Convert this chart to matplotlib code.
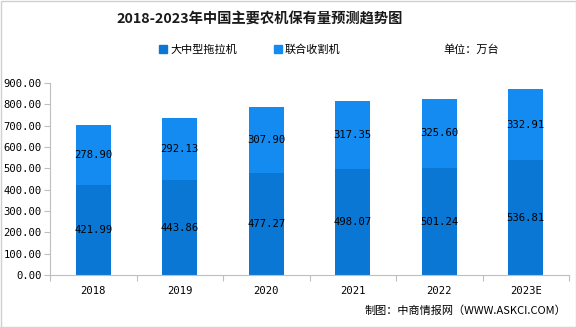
import matplotlib
matplotlib.use("Agg")
import matplotlib.pyplot as plt
from matplotlib.patches import Rectangle, Patch

plt.rcParams['font.family'] = ['Noto Sans CJK SC', 'DejaVu Sans']

categories = ["2018", "2019", "2020", "2021", "2022", "2023E"]
tractors = [421.99, 443.86, 477.27, 498.07, 501.24, 536.81]
harvesters = [278.90, 292.13, 307.90, 317.35, 325.60, 332.91]
series_names = ["大中型拖拉机", "联合收割机"]
title = "2018-2023年中国主要农机保有量预测趋势图"
unit = "单位：万台"
source = "制图：中商情报网（WWW.ASKCI.COM）"

c_dark = "#0B77D4"
c_light = "#148BF0"

fig = plt.figure(figsize=(5.76, 3.27), dpi=100)
ax = fig.add_axes([50/576, 1-275/327, 519/576, 192/327])

x = list(range(len(categories)))
w = 0.405
ax.bar(x, tractors, width=w, color=c_dark, zorder=2)
ax.bar(x, harvesters, width=w, bottom=tractors, color=c_light, zorder=2)

mono = ['DejaVu Sans Mono']
for xi, a, b in zip(x, tractors, harvesters):
    ax.text(xi, a/2, f"{a:.2f}", ha='center', va='center', fontsize=7.6, family=mono, color='black', zorder=3)
    ax.text(xi, a + b/2, f"{b:.2f}", ha='center', va='center', fontsize=7.6, family=mono, color='black', zorder=3)

ax.set_xlim(-0.5, len(categories)-0.5)
ax.set_ylim(0, 900)
ax.set_yticks(range(0, 901, 100))
ax.set_yticklabels([f"{v:.2f}" for v in range(0, 901, 100)], family=mono, fontsize=7.6)
ax.set_xticks([i - 0.5 for i in range(len(categories)+1)])
ax.set_xticklabels([])
ax.set_xticks(x, minor=True)
ax.set_xticklabels(categories, minor=True, family=mono, fontsize=7.6)
ax.tick_params(axis='x', which='major', length=4, color='#BFBFBF', direction='out')
ax.tick_params(axis='x', which='minor', length=0, pad=8)
ax.tick_params(axis='y', length=4, color='#BFBFBF', pad=2)
for s in ['top', 'right']:
    ax.spines[s].set_visible(False)
for s in ['left', 'bottom']:
    ax.spines[s].set_color('#BFBFBF')
    ax.spines[s].set_linewidth(0.8)

fig.text(260/576, 1-20/327, title, ha='center', va='center', fontsize=10.3, fontweight='bold', color='#1a1a1a')

handles = [Patch(color=c_dark), Patch(color=c_light)]
fig.legend(handles, series_names, loc='center', bbox_to_anchor=(250/576, 1-50/327), ncol=2,
           frameon=False, fontsize=8, handlelength=0.7, handleheight=0.7, handletextpad=0.3,
           columnspacing=3.3)
fig.text(443/576, 1-50/327, unit, ha='left', va='center', fontsize=8)
fig.text(566/576, 1-311/327, source, ha='right', va='center', fontsize=8)

fig.add_artist(Rectangle((0.5/576, 0.5/327), 1-1/576, 1-1/327, transform=fig.transFigure,
                         fill=False, edgecolor='#D0D0D0', linewidth=1))

fig.savefig("out.png", dpi=100)
